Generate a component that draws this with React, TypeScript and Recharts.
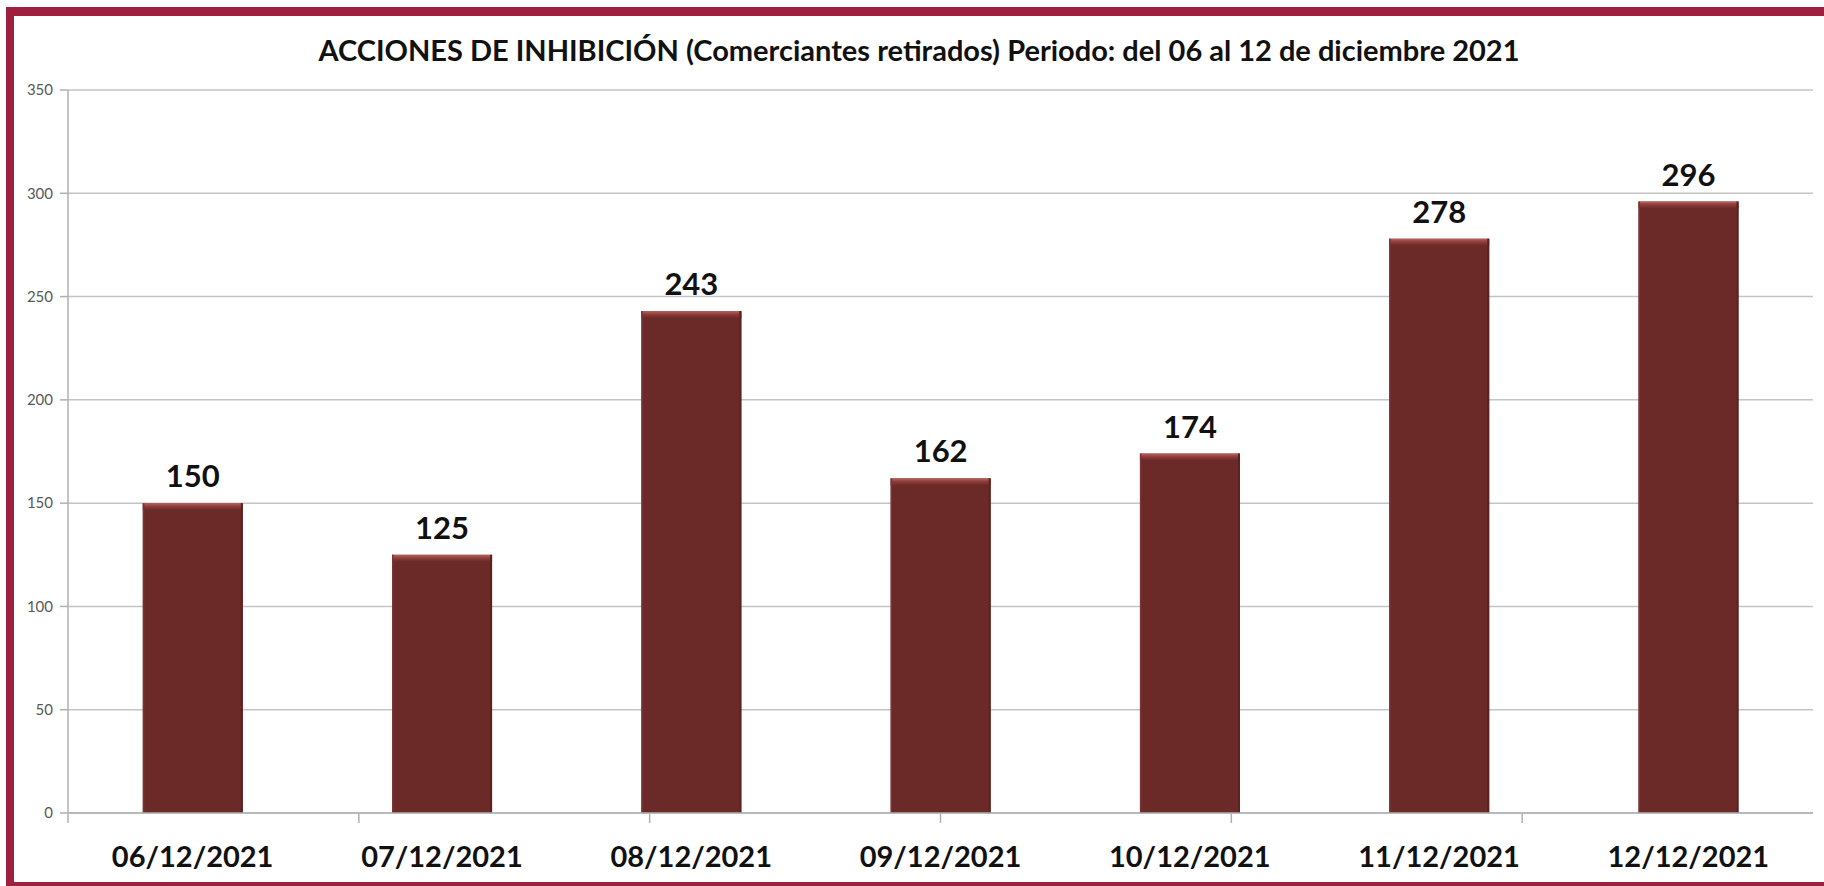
import React from 'react';
import { BarChart, Bar, XAxis, YAxis, CartesianGrid, LabelList } from 'recharts';

const fechas = ['06/12/2021', '07/12/2021', '08/12/2021', '09/12/2021', '10/12/2021', '11/12/2021', '12/12/2021'];
const retirados = [150, 125, 243, 162, 174, 278, 296];
const yTicks = [0, 50, 100, 150, 200, 250, 300, 350];
const bordes = [0, 1, 2, 3, 4, 5, 6, 7];

const titulo = 'ACCIONES DE INHIBICIÓN (Comerciantes retirados) Periodo: del 06 al 12 de diciembre 2021';

const data = fechas.map((fecha, i) => ({ fecha, valor: retirados[i] }));

const FONT = 'Lato, "Open Sans", sans-serif';

// barra con un pequeño bisel arriba, como en Excel
const BarraBisel = (props: any) => {
  const { x, y, width, height } = props;
  if (!height || height <= 0) return null;
  const bevel = Math.min(7, height);
  return (
    <g>
      <rect x={x} y={y} width={width} height={height} fill="#6B2A28" />
      <rect x={x} y={y} width={width} height={bevel} fill="url(#bisel)" />
      <rect x={x + width - 2} y={y} width={2} height={height} fill="#5C2220" />
      <rect x={x} y={y} width={1.5} height={height} fill="#7A3533" />
    </g>
  );
};

const SinEtiqueta = () => <g />;

const App: React.FC = () => {
  return (
    <div style={{ position: 'absolute', left: 0, top: 0, width: 1824, height: 886, overflow: 'hidden', background: '#fff' }}>
      <div
        style={{
          position: 'absolute',
          left: 6,
          top: 7,
          width: 1840,
          height: 884,
          boxSizing: 'border-box',
          borderTop: '9px solid #9E1F3E',
          borderLeft: '8px solid #9E1F3E',
          borderBottom: '9px solid #9E1F3E',
        }}
      />
      <div
        style={{
          position: 'absolute',
          left: 919,
          top: 33,
          transform: 'translateX(-50%)',
          whiteSpace: 'nowrap',
          fontFamily: FONT,
          fontWeight: 700,
          fontSize: 29,
          color: '#111',
          lineHeight: '34px',
        }}
      >
        {titulo}
      </div>
      <div style={{ position: 'absolute', left: 0, top: 0 }}>
        <BarChart
          width={1824}
          height={886}
          data={data}
          margin={{ top: 90, right: 11, left: 0, bottom: 0 }}
          barCategoryGap="30%"
        >
          <defs>
            <linearGradient id="bisel" x1="0" y1="0" x2="0" y2="1">
              <stop offset="0%" stopColor="#B9625E" />
              <stop offset="45%" stopColor="#8E3E3B" />
              <stop offset="100%" stopColor="#6B2A28" />
            </linearGradient>
          </defs>
          <CartesianGrid vertical={false} stroke="#C4C4C4" strokeWidth={1.5} />
          {/* eje de fechas: va primero, pegado al área de dibujo */}
          <XAxis
            dataKey="fecha"
            tickLine={false}
            tickSize={0}
            tickMargin={33}
            axisLine={{ stroke: '#B0B0B0', strokeWidth: 1.5 }}
            tick={{ fill: '#111', fontSize: 29, fontWeight: 700, fontFamily: FONT }}
            height={1}
            interval={0}
          />
          {/* eje auxiliar solo para las marcas entre categorías */}
          <XAxis
            xAxisId="bordes"
            type="number"
            domain={[0, 7]}
            ticks={bordes}
            tick={<SinEtiqueta />}
            tickSize={9}
            tickLine={{ stroke: '#B0B0B0', strokeWidth: 1.5 }}
            axisLine={false}
            height={72}
            allowDataOverflow
          />
          <YAxis
            domain={[0, 350]}
            ticks={yTicks}
            width={68}
            tickSize={8}
            tickMargin={7}
            tickLine={{ stroke: '#B0B0B0', strokeWidth: 1.5 }}
            axisLine={{ stroke: '#B0B0B0', strokeWidth: 1.5 }}
            tick={{ fill: '#595959', fontSize: 15, fontFamily: FONT }}
          />
          <Bar dataKey="valor" shape={<BarraBisel />} isAnimationActive={false}>
            <LabelList
              dataKey="valor"
              position="top"
              offset={16}
              style={{ fill: '#111', fontSize: 31, fontWeight: 700, fontFamily: FONT }}
            />
          </Bar>
        </BarChart>
      </div>
    </div>
  );
};

export default App;
